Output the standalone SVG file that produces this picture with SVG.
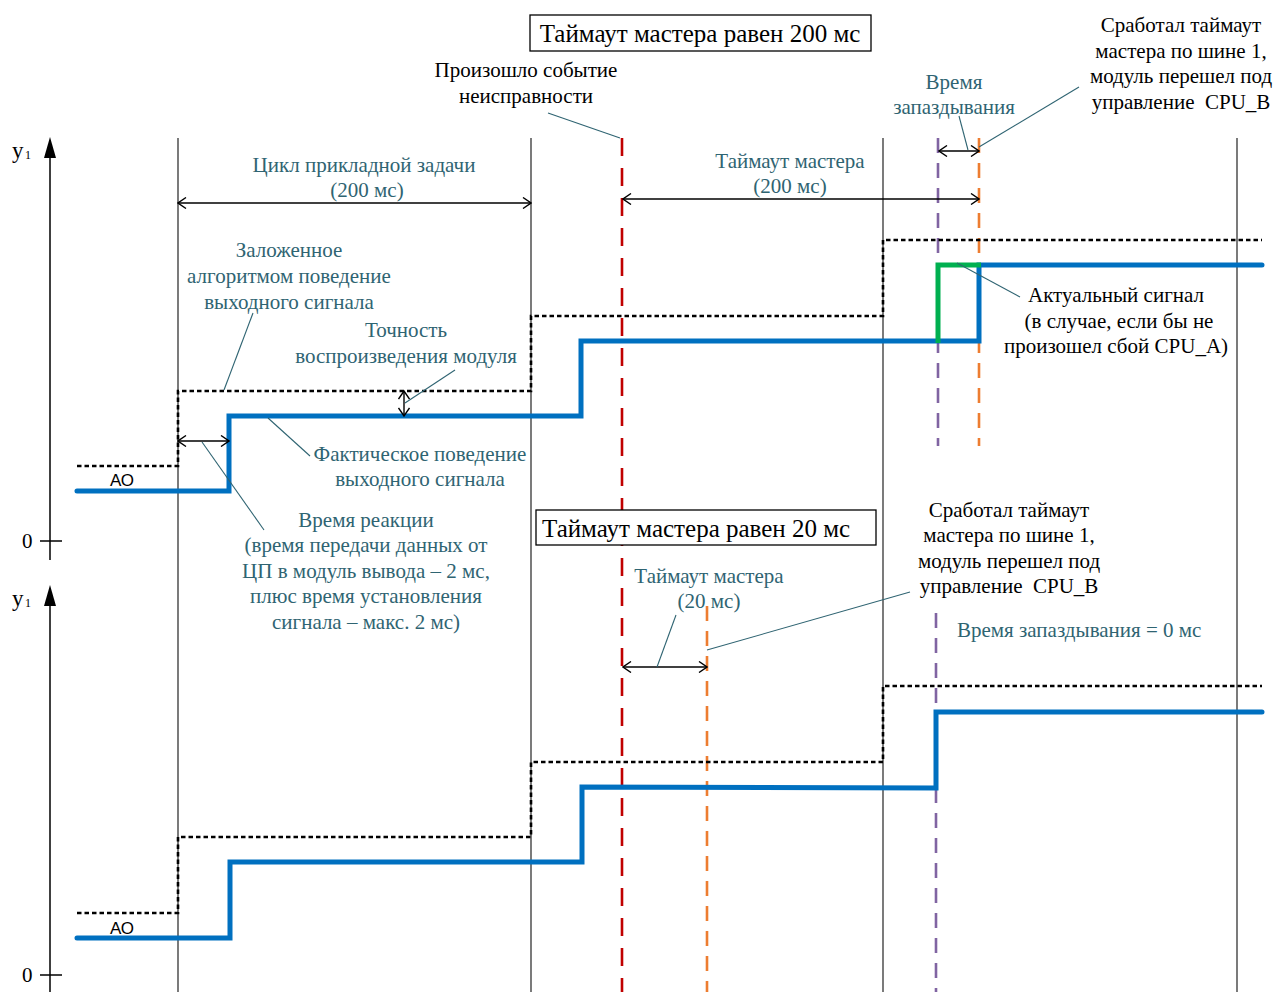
<svg xmlns="http://www.w3.org/2000/svg" width="1277" height="992" viewBox="0 0 1277 992">
<defs>
<marker id="oa" viewBox="0 0 10 12" refX="9" refY="6" markerWidth="10" markerHeight="12" markerUnits="userSpaceOnUse" orient="auto-start-reverse">
<path d="M1,0.5 L9,6 L1,11.5" fill="none" stroke="#000" stroke-width="1.4"/>
</marker>
</defs>
<style>
.bg{fill:#fff}
.t{font-family:"Liberation Serif","Times New Roman",serif;font-size:21px;fill:#000;white-space:pre}
.teal{fill:#2f6472}
.c{text-anchor:middle}
.big{font-size:25px}
.ao{font-family:"Liberation Sans",Arial,sans-serif;font-size:17px;fill:#000;text-anchor:middle}
.vl{stroke:#333;stroke-width:1.3;fill:none}
.ax{stroke:#000;stroke-width:1.5;fill:none}
.dot{stroke:#000;stroke-width:2.6;stroke-dasharray:4.5 3;fill:none}
.sig{stroke:#0070C0;stroke-width:5;fill:none;stroke-linecap:round;stroke-linejoin:miter}
.red{stroke:#C00000;stroke-width:2.6;stroke-dasharray:18 12;fill:none}
.org{stroke:#ED7D31;stroke-width:2.6;stroke-dasharray:15 10;fill:none}
.pur{stroke:#8064A2;stroke-width:2.6;stroke-dasharray:15 10;fill:none}
.grn{stroke:#00B050;stroke-width:5;fill:none;stroke-linejoin:miter}
.dim{stroke:#000;stroke-width:1.4;fill:none;marker-start:url(#oa);marker-end:url(#oa)}
.ld{stroke:#2f6472;stroke-width:1.1;fill:none}
.box{fill:#fff;stroke:#000;stroke-width:1.3}
</style>
<rect class="bg" width="1277" height="992"/>

<g id="grid">
<line class="vl" x1="178" y1="138" x2="178" y2="992"/>
<line class="vl" x1="531" y1="138" x2="531" y2="992"/>
<line class="vl" x1="883" y1="138" x2="883" y2="992"/>
<line class="vl" x1="1237" y1="138" x2="1237" y2="992"/>
</g>

<g id="axis-top">
<line class="ax" x1="50" y1="150" x2="50" y2="560"/>
<path d="M50,137 L44,158 L56,158 Z" fill="#000"/>
<line class="ax" x1="40" y1="541" x2="62" y2="541"/>
<text class="t" x="12" y="158" style="font-size:23px">y</text><text class="t" x="25" y="159" style="font-size:12px">1</text>
<text class="t" x="22" y="548">0</text>
</g>

<g id="axis-bottom">
<line class="ax" x1="50" y1="598" x2="50" y2="992"/>
<path d="M50,585 L44,606 L56,606 Z" fill="#000"/>
<line class="ax" x1="40" y1="975" x2="62" y2="975"/>
<text class="t" x="12" y="606" style="font-size:23px">y</text><text class="t" x="25" y="607" style="font-size:12px">1</text>
<text class="t" x="22" y="982">0</text>
</g>

<g id="markers">
<line class="red" x1="622" y1="138" x2="622" y2="992"/>
<line class="pur" x1="938" y1="138" x2="938" y2="446"/>
<line class="org" x1="979" y1="138" x2="979" y2="446"/>
<line class="org" x1="707" y1="606" x2="707" y2="992"/>
<line class="pur" x1="936" y1="613" x2="936" y2="992"/>
</g>

<g id="signals-top">
<polyline class="dot" points="77,466 178,466 178,391 531,391 531,316 883,316 883,240 1262,240"/>
<polyline class="sig" points="77,491 229,491 229,416 581,416 581,341 979,341 979,265 1262,265"/>
<polyline class="grn" points="938,343 938,265 981,265"/>
<text class="ao" x="122" y="486">АО</text>
</g>

<g id="signals-bottom">
<polyline class="dot" points="77,913 178,913 178,837 531,837 531,762 883,762 883,686 1262,686"/>
<polyline class="sig" points="77,938 230,938 230,862 582,862 582,787 936,788 936,712 1262,712"/>
<text class="ao" x="122" y="934">АО</text>
</g>

<g id="connectors">
<line class="dim" x1="178" y1="203" x2="531" y2="203"/>
<line class="dim" x1="623" y1="199" x2="979" y2="199"/>
<line class="dim" x1="939" y1="151" x2="979" y2="151"/>
<line class="dim" x1="404" y1="391" x2="404" y2="416"/>
<line class="dim" x1="178" y1="441" x2="229" y2="441"/>
<line class="dim" x1="623" y1="667" x2="707" y2="667"/>
<line class="ld" x1="548" y1="113" x2="620" y2="138"/>
<line class="ld" x1="959" y1="116" x2="968" y2="150"/>
<line class="ld" x1="1079" y1="87" x2="979" y2="147"/>
<line class="ld" x1="253" y1="313" x2="224" y2="390"/>
<line class="ld" x1="455" y1="370" x2="405" y2="403"/>
<line class="ld" x1="268" y1="418" x2="310" y2="456"/>
<line class="ld" x1="202" y1="442" x2="264" y2="530"/>
<line class="ld" x1="957" y1="263" x2="1020" y2="297"/>
<line class="ld" x1="676" y1="615" x2="657" y2="667"/>
<line class="ld" x1="910" y1="592" x2="707" y2="650"/>
</g>

<g id="title-200">
<rect class="box" x="530" y="15" width="341" height="36"/>
<text class="t big c" x="700" y="42">Таймаут мастера равен 200 мс</text>
</g>

<g id="title-20">
<rect class="box" x="536" y="510" width="340" height="35"/>
<text class="t big" x="542" y="537">Таймаут мастера равен 20 мс</text>
</g>

<g id="lbl-fault">
<text class="t c" x="526" y="77">Произошло событие</text>
<text class="t c" x="526" y="103">неисправности</text>
</g>

<g id="lbl-cycle">
<text class="t teal c" x="364" y="172">Цикл прикладной задачи</text>
<text class="t teal c" x="367" y="197">(200 мс)</text>
</g>

<g id="lbl-timeout200">
<text class="t teal c" x="790" y="168">Таймаут мастера</text>
<text class="t teal c" x="790" y="193">(200 мс)</text>
</g>

<g id="lbl-delay">
<text class="t teal c" x="954" y="89">Время</text>
<text class="t teal c" x="954" y="114">запаздывания</text>
</g>

<g id="lbl-switch-top">
<text class="t c" x="1181" y="32">Сработал таймаут</text>
<text class="t c" x="1181" y="58">мастера по шине 1,</text>
<text class="t c" x="1181" y="83">модуль перешел под</text>
<text class="t c" x="1181" y="109">управление  CPU_B</text>
</g>

<g id="lbl-algo">
<text class="t teal c" x="289" y="257">Заложенное</text>
<text class="t teal c" x="289" y="283">алгоритмом поведение</text>
<text class="t teal c" x="289" y="309">выходного сигнала</text>
</g>

<g id="lbl-accuracy">
<text class="t teal c" x="406" y="337">Точность</text>
<text class="t teal c" x="406" y="363">воспроизведения модуля</text>
</g>

<g id="lbl-actual">
<text class="t teal c" x="420" y="461">Фактическое поведение</text>
<text class="t teal c" x="420" y="486">выходного сигнала</text>
</g>

<g id="lbl-reaction">
<text class="t teal c" x="366" y="527">Время реакции</text>
<text class="t teal c" x="366" y="552">(время передачи данных от</text>
<text class="t teal c" x="366" y="578">ЦП в модуль вывода – 2 мс,</text>
<text class="t teal c" x="366" y="603">плюс время установления</text>
<text class="t teal c" x="366" y="629">сигнала – макс. 2 мс)</text>
</g>

<g id="lbl-real-signal">
<text class="t c" x="1116" y="302">Актуальный сигнал</text>
<text class="t c" x="1119" y="328">(в случае, если бы не</text>
<text class="t c" x="1116" y="353">произошел сбой CPU_A)</text>
</g>

<g id="lbl-timeout20">
<text class="t teal c" x="709" y="583">Таймаут мастера</text>
<text class="t teal c" x="709" y="608">(20 мс)</text>
</g>

<g id="lbl-switch-bottom">
<text class="t c" x="1009" y="517">Сработал таймаут</text>
<text class="t c" x="1009" y="542">мастера по шине 1,</text>
<text class="t c" x="1009" y="568">модуль перешел под</text>
<text class="t c" x="1009" y="593">управление  CPU_B</text>
</g>

<g id="lbl-delay0">
<text class="t teal" x="957" y="637">Время запаздывания = 0 мс</text>
</g>
</svg>
